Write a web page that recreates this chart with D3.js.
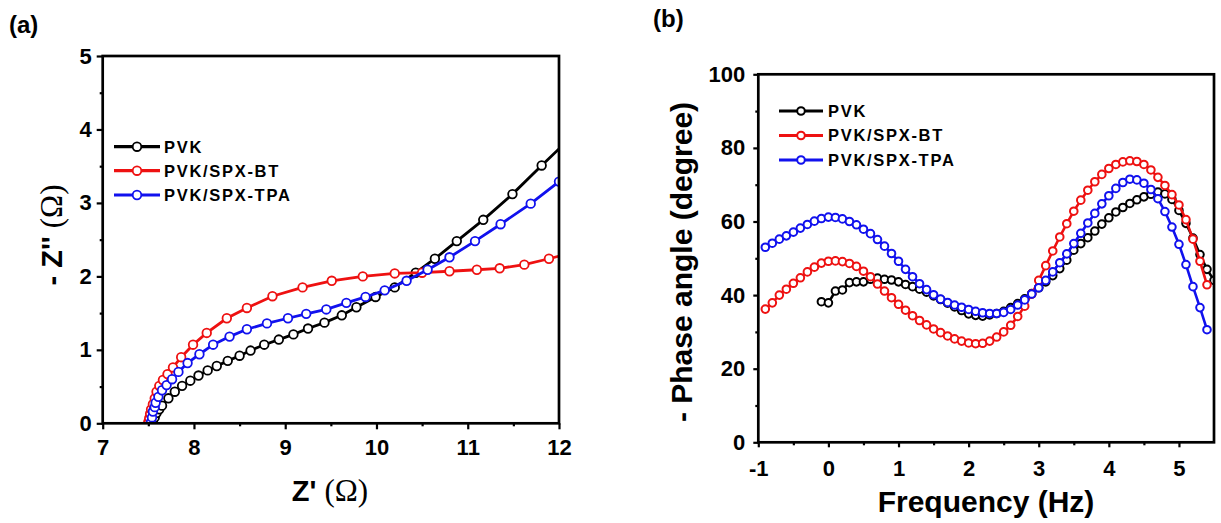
<!DOCTYPE html>
<html><head><meta charset="utf-8">
<script src="https://cdn.jsdelivr.net/npm/d3@7"></script>
<style>body{margin:0;background:#fff}svg{display:block}</style>
</head><body><svg id="c" width="1221" height="523"></svg>
<script>
const seriesNames = ["PVK", "PVK/SPX-BT", "PVK/SPX-TPA"];
const seriesColors = ["#000000", "#ee1111", "#1111ee"];

// Panel (a) Nyquist: Z' and -Z''
const nyqPVK_x = [7.55,7.57,7.59,7.62,7.65,7.72,7.79,7.87,7.96,8.05,8.15,8.25,8.37,8.50,8.62,8.77,8.93,9.09,9.25,9.43,9.62,9.78,9.99,10.20,10.43,10.64,10.88,11.17,11.49,11.81,12.13];
const nyqPVK_y = [0.02,0.08,0.14,0.19,0.24,0.34,0.43,0.51,0.58,0.65,0.72,0.78,0.85,0.92,0.99,1.07,1.14,1.21,1.29,1.37,1.47,1.58,1.72,1.85,2.05,2.24,2.48,2.77,3.12,3.51,3.89];
const nyqBT_x = [7.50,7.51,7.52,7.53,7.55,7.57,7.59,7.62,7.66,7.71,7.77,7.86,7.99,8.14,8.36,8.58,8.86,9.19,9.51,9.85,10.20,10.50,10.80,11.10,11.35,11.62,11.89,12.17];
const nyqBT_y = [0.02,0.07,0.13,0.19,0.26,0.34,0.43,0.51,0.59,0.67,0.76,0.90,1.07,1.23,1.43,1.57,1.73,1.85,1.94,2.00,2.04,2.05,2.07,2.09,2.11,2.16,2.24,2.33];
const nyqTPA_x = [7.53,7.54,7.55,7.57,7.58,7.61,7.65,7.70,7.76,7.83,7.93,8.06,8.21,8.39,8.58,8.80,9.03,9.23,9.45,9.67,9.88,10.09,10.33,10.56,10.80,11.08,11.36,11.69,12.00];
const nyqTPA_y = [0.02,0.08,0.16,0.22,0.28,0.36,0.45,0.52,0.60,0.70,0.82,0.94,1.07,1.18,1.28,1.36,1.43,1.49,1.55,1.64,1.72,1.81,1.94,2.09,2.26,2.48,2.71,2.99,3.29];
const nyqXTicks = [7, 8, 9, 10, 11, 12];
const nyqYTicks = [0, 1, 2, 3, 4, 5];

// Panel (b) Bode phase: log frequency and -phase
const bodePVK_f = [-0.1,0.0,0.1,0.2,0.3,0.4,0.5,0.6,0.7,0.8,0.9,1.0,1.1,1.2,1.3,1.4,1.5,1.6,1.7,1.8,1.9,2.0,2.1,2.2,2.3,2.4,2.5,2.6,2.7,2.8,2.9,3.0,3.1,3.2,3.3,3.4,3.5,3.6,3.7,3.8,3.9,4.0,4.1,4.2,4.3,4.4,4.5,4.6,4.7,4.8,4.9,5.0,5.1,5.2,5.3,5.4,5.5];
const bodePVK_p = [38.2,37.9,41.1,41.4,43.4,43.6,43.6,44.3,44.6,44.3,44.1,43.6,42.9,42.3,41.6,40.8,39.8,38.8,37.8,36.8,35.8,34.9,34.5,34.3,34.6,35.0,35.6,36.6,37.7,39.0,40.4,42.0,43.6,45.3,47.2,49.5,52.2,54.0,55.6,57.4,59.3,61.0,62.6,63.8,64.9,65.9,66.7,67.4,68.0,67.5,66.0,63.0,59.5,55.5,51.0,47.0,44.0];
const bodeBT_f = [-0.9,-0.8,-0.7,-0.6,-0.5,-0.4,-0.3,-0.2,-0.1,0.0,0.1,0.2,0.3,0.4,0.5,0.6,0.7,0.8,0.9,1.0,1.1,1.2,1.3,1.4,1.5,1.6,1.7,1.8,1.9,2.0,2.1,2.2,2.3,2.4,2.5,2.6,2.7,2.8,2.9,3.0,3.1,3.2,3.3,3.4,3.5,3.6,3.7,3.8,3.9,4.0,4.1,4.2,4.3,4.4,4.5,4.6,4.7,4.8,4.9,5.0,5.1,5.2,5.3,5.4];
const bodeBT_p = [36.2,37.9,40.0,41.6,43.2,44.7,46.3,47.6,48.7,49.2,49.3,49.1,48.6,47.8,46.5,45.0,43.0,41.1,39.3,37.5,35.9,34.4,33.1,31.9,30.8,29.8,28.9,28.1,27.5,27.0,26.8,26.9,27.5,28.6,30.0,31.8,34.2,37.0,40.3,44.0,48.0,52.0,55.8,59.4,62.8,65.8,68.5,70.8,72.8,74.4,75.5,76.2,76.5,76.3,75.5,74.0,72.0,69.8,67.3,64.5,60.5,55.2,49.2,42.8];
const bodeTPA_f = [-0.9,-0.8,-0.7,-0.6,-0.5,-0.4,-0.3,-0.2,-0.1,0.0,0.1,0.2,0.3,0.4,0.5,0.6,0.7,0.8,0.9,1.0,1.1,1.2,1.3,1.4,1.5,1.6,1.7,1.8,1.9,2.0,2.1,2.2,2.3,2.4,2.5,2.6,2.7,2.8,2.9,3.0,3.1,3.2,3.3,3.4,3.5,3.6,3.7,3.8,3.9,4.0,4.1,4.2,4.3,4.4,4.5,4.6,4.7,4.8,4.9,5.0,5.1,5.2,5.3,5.4];
const bodeTPA_p = [53.0,54.1,55.2,56.1,57.1,58.2,59.2,60.1,60.8,61.2,61.1,60.7,60.0,59.1,57.9,56.7,55.1,53.3,51.3,49.2,47.0,45.0,43.1,41.5,40.1,38.9,38.0,37.3,36.7,36.1,35.6,35.2,35.0,35.0,35.3,36.1,37.3,38.7,40.3,42.0,44.0,46.3,48.8,51.2,54.0,56.8,59.6,62.2,64.8,67.0,69.0,70.6,71.5,71.3,70.4,68.7,66.2,62.7,58.5,53.8,48.3,42.3,36.6,30.6];
const bodeXTicks = [-1, 0, 1, 2, 3, 4, 5];
const bodeYTicks = [0, 20, 40, 60, 80, 100];

const svg = d3.select("#c");
const SANS = "'Liberation Sans', Arial, sans-serif";
const SERIF = "'Liberation Serif', 'Times New Roman', serif";

function zip(a, b) { return a.map((v, i) => [v, b[i]]); }
const plainFmt = d => String(d);

function panel(cfg) {
  const g = svg.append("g");
  const x = d3.scaleLinear().domain(cfg.xDomain).range(cfg.xRange);
  const y = d3.scaleLinear().domain(cfg.yDomain).range(cfg.yRange);
  const clipId = cfg.id + "clip";
  g.append("clipPath").attr("id", clipId).append("rect")
    .attr("x", cfg.xRange[0]).attr("y", cfg.yRange[1])
    .attr("width", cfg.xRange[1] - cfg.xRange[0]).attr("height", cfg.yRange[0] - cfg.yRange[1]);

  const plot = g.append("g").attr("clip-path", `url(#${clipId})`);
  cfg.series.forEach((s, i) => {
    const pts = zip(s[0], s[1]);
    plot.append("path").datum(pts)
      .attr("fill", "none").attr("stroke", seriesColors[i]).attr("stroke-width", cfg.lw)
      .attr("d", d3.line().x(d => x(d[0])).y(d => y(d[1])));
    plot.selectAll(null).data(pts).enter().append("circle")
      .attr("cx", d => x(d[0])).attr("cy", d => y(d[1])).attr("r", cfg.r)
      .attr("fill", "#fff").attr("stroke", seriesColors[i]).attr("stroke-width", cfg.sw);
  });

  const minorX = d3.axisBottom(x).tickValues(cfg.xMinor).tickSize(3).tickFormat("");
  const minorY = d3.axisLeft(y).tickValues(cfg.yMinor).tickSize(3).tickFormat("");
  const ax = d3.axisBottom(x).tickValues(cfg.xTicks).tickSize(cfg.tick).tickPadding(cfg.xPad).tickFormat(plainFmt);
  const ay = d3.axisLeft(y).tickValues(cfg.yTicks).tickSize(cfg.tick).tickPadding(cfg.yPad).tickFormat(plainFmt);
  [[minorX, "b"], [ax, "b"], [minorY, "l"], [ay, "l"]].forEach(([a, side]) => {
    const ga = g.append("g")
      .attr("transform", side === "b" ? `translate(0,${cfg.yRange[0]})` : `translate(${cfg.xRange[0]},0)`)
      .call(a);
    ga.select(".domain").remove();
    ga.selectAll("line").attr("stroke", "#000").attr("stroke-width", 2.2);
    ga.selectAll("text").attr("font-family", SANS).attr("font-weight", "bold")
      .attr("font-size", cfg.tickFont).attr("fill", "#000");
  });
  g.append("rect")
    .attr("x", cfg.xRange[0]).attr("y", cfg.yRange[1])
    .attr("width", cfg.xRange[1] - cfg.xRange[0]).attr("height", cfg.yRange[0] - cfg.yRange[1])
    .attr("fill", "none").attr("stroke", "#000").attr("stroke-width", 2.7);

  seriesNames.forEach((n, i) => {
    const ly = cfg.legY[i];
    g.append("line").attr("x1", cfg.legX[0]).attr("x2", cfg.legX[1]).attr("y1", ly).attr("y2", ly)
      .attr("stroke", seriesColors[i]).attr("stroke-width", 3.2);
    g.append("circle").attr("cx", (cfg.legX[0] + cfg.legX[1]) / 2).attr("cy", ly).attr("r", cfg.r)
      .attr("fill", "#fff").attr("stroke", seriesColors[i]).attr("stroke-width", cfg.sw);
    g.append("text").attr("x", cfg.legX[2]).attr("y", ly).attr("dy", "0.36em")
      .attr("font-family", SANS).attr("font-weight", "bold").attr("font-size", 16.5)
      .attr("letter-spacing", 1.7).text(n);
  });
  return g;
}

// Panel (a)
const ga = panel({
  id: "a", xDomain: [7, 12], yDomain: [0, 5], xRange: [102.7, 559], yRange: [423.3, 56],
  series: [[nyqPVK_x, nyqPVK_y], [nyqBT_x, nyqBT_y], [nyqTPA_x, nyqTPA_y]],
  xTicks: nyqXTicks, yTicks: nyqYTicks,
  xMinor: [7.5, 8.5, 9.5, 10.5, 11.5], yMinor: [0.5, 1.5, 2.5, 3.5, 4.5],
  tick: 6, xPad: 10, yPad: 5, tickFont: 22, lw: 2.8, r: 4.3, sw: 1.8,
  legX: [114, 160, 164], legY: [146.7, 170.7, 195]
});
ga.append("text").attr("x", 330).attr("y", 501).attr("text-anchor", "middle")
  .attr("font-family", SANS).attr("font-weight", "bold").attr("font-size", 29)
  .call(t => { t.append("tspan").text("Z' "); t.append("tspan").attr("font-family", SERIF).attr("font-weight", "normal").attr("font-size", 31).text("(Ω)"); });
ga.append("text").attr("transform", "translate(62,235) rotate(-90)").attr("text-anchor", "middle")
  .attr("font-family", SANS).attr("font-weight", "bold").attr("font-size", 29)
  .call(t => { t.append("tspan").text("- Z'' "); t.append("tspan").attr("font-family", SERIF).attr("font-weight", "normal").attr("font-size", 31).text("(Ω)"); });
svg.append("text").attr("x", 9).attr("y", 33).attr("font-family", SANS).attr("font-weight", "bold")
  .attr("font-size", 24).text("(a)");

// Panel (b)
const gb = panel({
  id: "b", xDomain: [-1, 5.5], yDomain: [0, 100], xRange: [758.3, 1214], yRange: [442.3, 74.3],
  series: [[bodePVK_f, bodePVK_p], [bodeBT_f, bodeBT_p], [bodeTPA_f, bodeTPA_p]],
  xTicks: bodeXTicks, yTicks: bodeYTicks,
  xMinor: [-0.5, 0.5, 1.5, 2.5, 3.5, 4.5], yMinor: [10, 30, 50, 70, 90],
  tick: 5, xPad: 13, yPad: 8, tickFont: 22, lw: 2.6, r: 3.8, sw: 2,
  legX: [779, 823, 828], legY: [111, 135.5, 160]
});
gb.append("text").attr("x", 986).attr("y", 512).attr("text-anchor", "middle")
  .attr("font-family", SANS).attr("font-weight", "bold").attr("font-size", 30).text("Frequency (Hz)");
gb.append("text").attr("transform", "translate(692,262) rotate(-90)").attr("text-anchor", "middle")
  .attr("font-family", SANS).attr("font-weight", "bold").attr("font-size", 30).text("- Phase angle (degree)");
svg.append("text").attr("x", 653).attr("y", 27).attr("font-family", SANS).attr("font-weight", "bold")
  .attr("font-size", 24).text("(b)");
</script></body></html>
